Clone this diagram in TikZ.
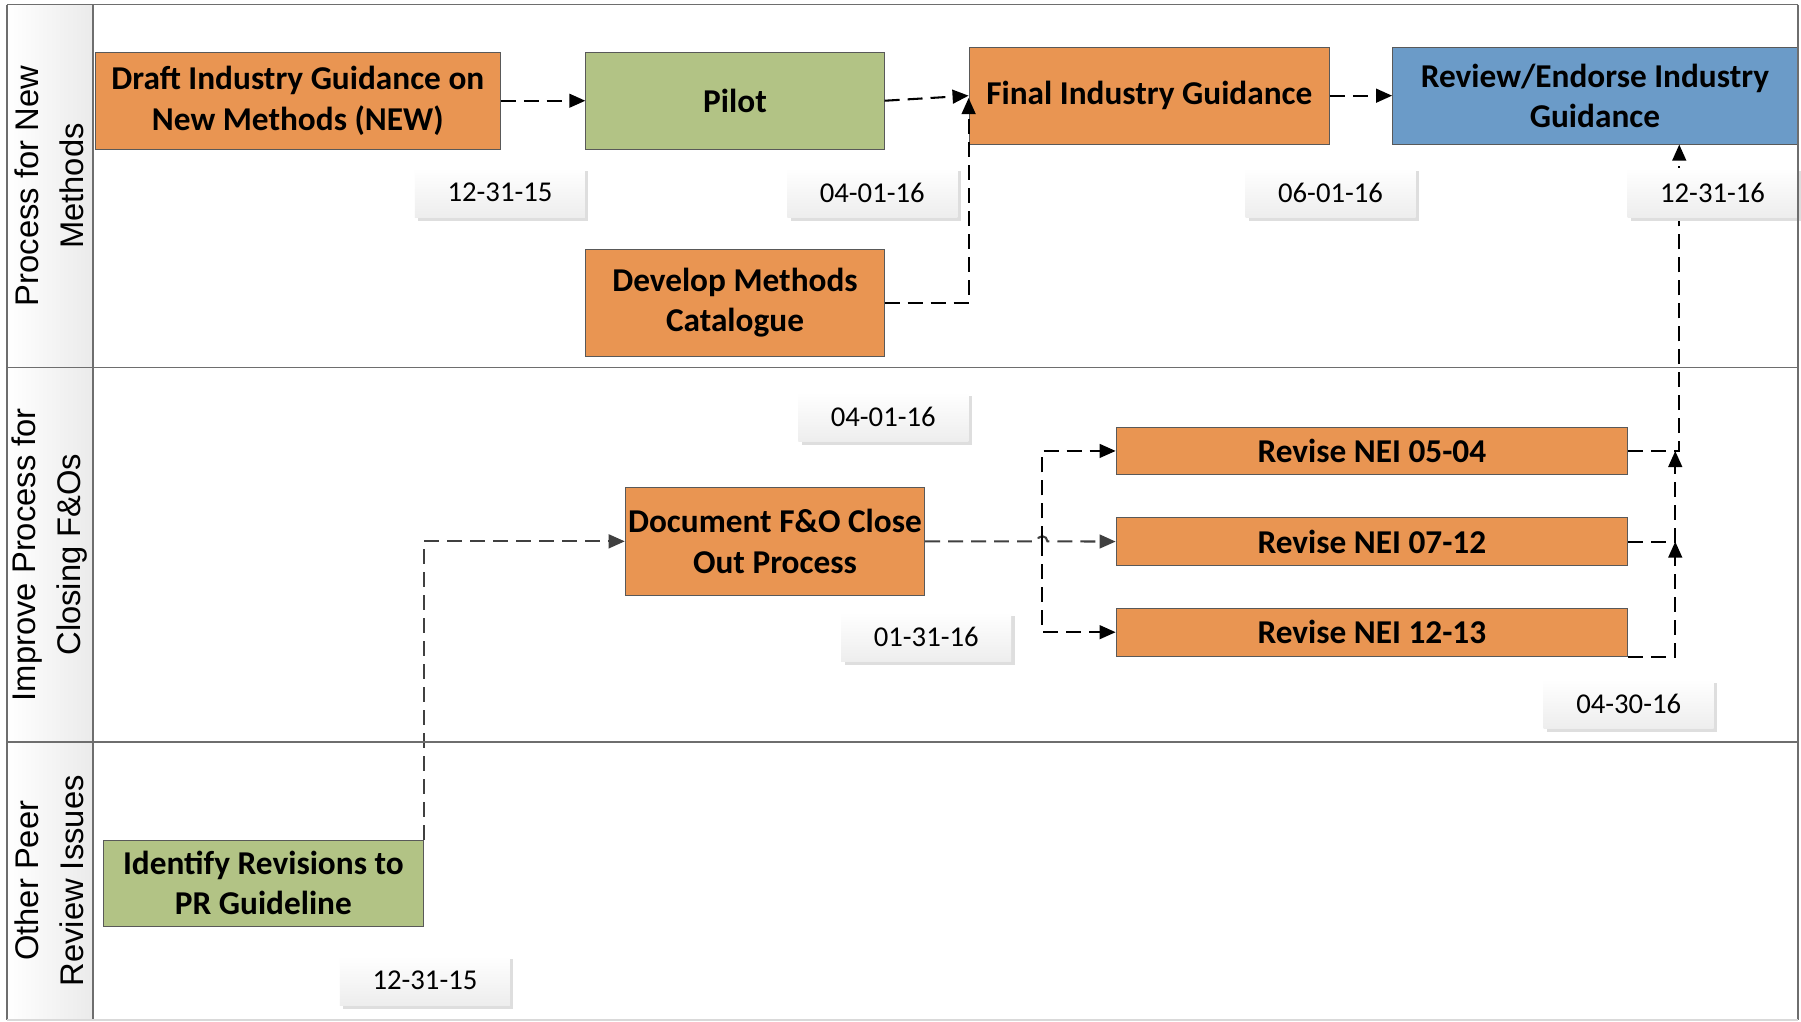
\documentclass[tikz,border=0pt]{standalone}
\usepackage{fontspec}
\setmainfont{Carlito}
\newfontfamily\lanefont{Liberation Sans}
\usetikzlibrary{arrows.meta,shadows,calc}
\definecolor{orng}{HTML}{E99552}
\definecolor{grn}{HTML}{B2C385}
\definecolor{blu}{HTML}{6B9BC8}
\definecolor{lanegray}{HTML}{6E6E6E}
\begin{document}
\begin{tikzpicture}[x=1pt,y=1pt,
  task/.style={draw=black!65, line width=0.9pt, inner sep=0pt, align=center,
    font=\fontsize{29}{35}\selectfont\bfseries},
  datebox/.style={top color=white, bottom color=black!7, draw=none, inner sep=0pt,
    minimum width=148pt, minimum height=43pt, font=\fontsize{25}{29}\selectfont,
    drop shadow={shadow xshift=3pt, shadow yshift=-3pt, fill=black!13, opacity=1}},
  lanelabel/.style={rotate=90, align=center, font=\lanefont\fontsize{28.5}{39}\selectfont},
  conn/.style={draw=black, line width=1.8pt, dash pattern=on 13pt off 7pt,
    -{Triangle[length=14pt,width=12pt]}},
  conng/.style={conn, draw=black!75},
  laneline/.style={draw=lanegray, line width=1.5pt}
]
\useasboundingbox (0,0) rectangle (1568,-889);
\fill[white] (0,0) rectangle (1568,-889);
% header column
\fill[left color=white, right color=black!8] (6,-4) rectangle (80.7,-888);

% lane labels
\node[lanelabel] (l1) at (43,-162) {Process for New\\Methods};
\node[lanelabel] (l2) at (43,-482.9) {Improve Process for\\Closing F\&Os};
\node[lanelabel] (l3) at (43,-766.9) {Other Peer\\Review Issues};

% tasks
\node[task, fill=orng, minimum width=352.5pt, minimum height=84.1pt] (draft) at (259.3,-87.7) {Draft Industry Guidance on\\New Methods (NEW)};
\node[task, fill=grn, minimum width=259.7pt, minimum height=84.1pt] (pilot) at (639.9,-87.7) {Pilot};
\node[task, fill=orng, minimum width=259.7pt, minimum height=93.2pt] (develop) at (639.9,-263.4) {Develop Methods\\Catalogue};
\node[task, fill=orng, minimum width=313.7pt, minimum height=84.2pt] (final) at (1000.6,-83.3) {Final Industry Guidance};
\node[task, fill=blu, minimum width=352.3pt, minimum height=84.2pt] (review) at (1388.6,-83.3) {Review/Endorse Industry\\Guidance};
\node[task, fill=orng, minimum width=260.6pt, minimum height=94pt] (doc) at (674.7,-471.3) {Document F\&O Close\\Out Process};
\node[task, fill=orng, minimum width=445.3pt, minimum height=41.2pt] (n1) at (1194.4,-392.6) {Revise NEI 05-04};
\node[task, fill=orng, minimum width=445.3pt, minimum height=42.3pt] (n2) at (1194.4,-471.5) {Revise NEI 07-12};
\node[task, fill=orng, minimum width=445.3pt, minimum height=41.5pt] (n3) at (1194.4,-550.4) {Revise NEI 12-13};
\node[task, fill=grn, minimum width=278.5pt, minimum height=74.9pt] (identify) at (229.3,-768.8) {Identify Revisions to\\PR Guideline};

% connectors
\draw[conn] (draft.east) -- (pilot.west);
\draw[conn] (pilot.east) -- (final.west);
\draw[conn] (develop.east) -| ([yshift=-2pt]final.west);
\draw[conn] (final.east) -- (review.west);
\draw[conng] (identify.north east) |- (doc.west);
\coordinate (hub) at (907.4,0 |- doc.east);
\draw[conng] (doc.east) -- ([xshift=-4.5pt]hub) arc (180:0:4.5pt) -- (n2.west);
\draw[conn] (hub) |- (n1.west);
\draw[conn] (hub) |- (n3.west);
\draw[conn] (n1.east) -| ([xshift=250pt]review.south west);
\draw[conn] (n2.east) -| ([xshift=41pt]n1.east);
\draw[conn] (n3.south east) -| ([xshift=41pt]n2.east);

% date labels
\node[datebox] (d1) at (435.3,-167.8) {12-31-15};
\node[datebox] (d2) at (759.4,-167.8) {04-01-16};
\node[datebox] (d3) at (1158.4,-167.8) {06-01-16};
\node[datebox] (d4) at (1491,-167.8) {12-31-16};
\node[datebox] (d5) at (769,-363) {04-01-16};
\node[datebox] (d6) at (806.4,-554.5) {01-31-16};
\node[datebox] (d7) at (1418,-613) {04-30-16};
\node[datebox] (d8) at (370,-853.6) {12-31-15};

% frame and lanes
\draw[laneline] (6,-4) -- (1565.4,-4);
\draw[laneline] (6,-320) -- (1565.4,-320);
\draw[laneline] (6,-645.7) -- (1565.4,-645.7);
\draw[laneline] (6,-4) -- (6,-888);
\draw[laneline] (80.7,-4) -- (80.7,-888);
\draw[laneline] (1565.4,-4) -- (1565.4,-888);
\draw[draw=black!15, line width=1pt] (6,-888) -- (1565.4,-888);
\end{tikzpicture}
\end{document}
